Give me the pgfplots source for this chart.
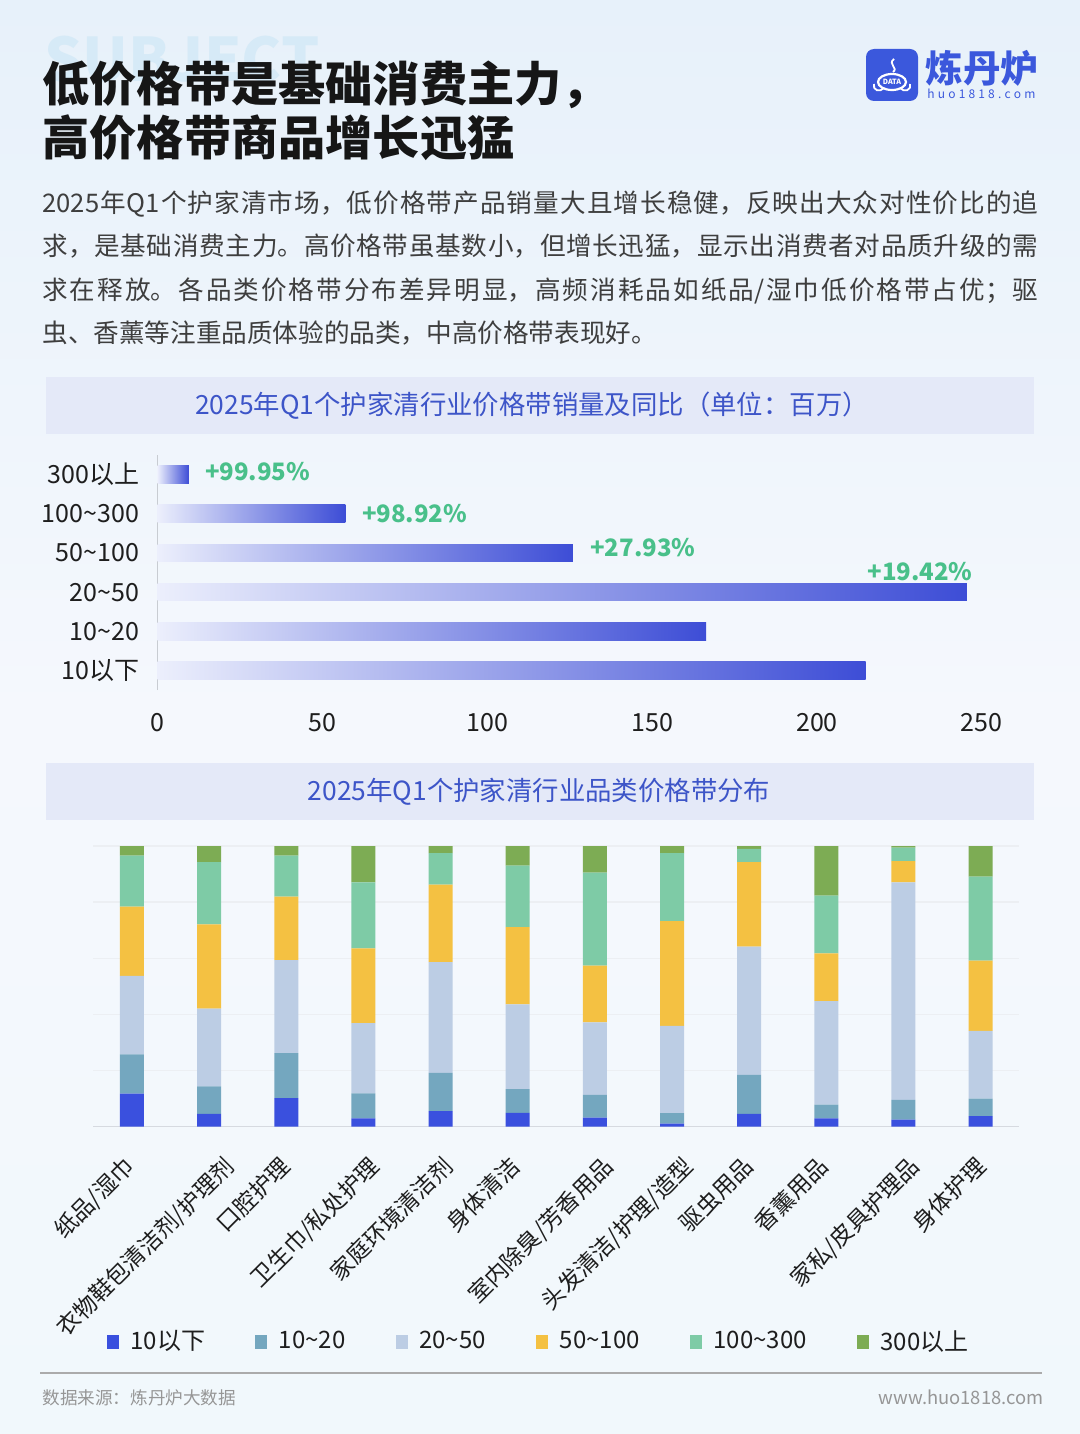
\documentclass[border=0pt]{standalone}
\usepackage{fontspec}
\setmainfont{Noto Sans CJK SC}
\usepackage{pgfplots}
\usepackage{pgfplotstable}
\pgfplotsset{compat=1.18}
\XeTeXlinebreaklocale "zh"
\XeTeXlinebreakskip=0pt plus 4pt
\newcommand{\tld}{\char"007E\relax}

\definecolor{bgtop}{RGB}{231,241,250}
\definecolor{bgmid}{RGB}{245,248,253}
\definecolor{bgbot}{RGB}{241,248,252}
\definecolor{subj}{RGB}{214,234,247}
\definecolor{titlecol}{RGB}{22,22,22}
\definecolor{paracol}{RGB}{62,62,62}
\definecolor{bannerfill}{RGB}{228,233,248}
\definecolor{bannertext}{RGB}{61,85,200}
\definecolor{logoblue}{RGB}{59,88,220}
\definecolor{barend}{RGB}{61,77,214}
\definecolor{barmid}{RGB}{112,124,226}
\definecolor{barstart}{RGB}{236,239,252}
\definecolor{pctgreen}{RGB}{73,192,138}
\definecolor{axisgray}{RGB}{200,204,210}
\definecolor{gridc}{RGB}{236,239,243}
\definecolor{basec}{RGB}{214,218,224}
\definecolor{labcol}{RGB}{30,30,30}
\definecolor{footgray}{RGB}{150,150,150}
\definecolor{c1}{RGB}{58,80,222}
\definecolor{c2}{RGB}{116,167,191}
\definecolor{c3}{RGB}{188,205,228}
\definecolor{c4}{RGB}{244,193,66}
\definecolor{c5}{RGB}{126,203,166}
\definecolor{c6}{RGB}{125,172,84}

\pgfplotstableread{
x c1 c2 c3 c4 c5 c6
0 11.7 14.0 28.0 24.7 18.2 3.4
1 4.5 9.8 27.7 30.1 22.2 5.7
2 10.1 16.1 33.1 22.7 14.6 3.4
3 2.9 8.9 25.1 26.6 23.5 13.0
4 5.5 13.6 39.5 27.6 11.3 2.5
5 4.9 8.4 30.2 27.6 21.9 7.0
6 3.2 8.1 25.8 20.3 33.1 9.5
7 1.0 3.8 31.1 37.3 24.3 2.5
8 4.5 13.9 45.7 30.2 4.7 1.0
9 2.9 4.9 36.9 17.0 20.6 17.7
10 2.5 7.0 77.5 7.6 4.8 0.6
11 3.7 6.2 24.2 25.0 30.0 10.9
}\stacked

\begin{document}
\begin{tikzpicture}
\begin{scope}[x=0.5pt,y=-0.5pt]
\shade[top color=bgtop, bottom color=bgbot, middle color=bgmid] (0,0) rectangle (1080,1434);
% watermark word
\node[anchor=north west, inner sep=0pt, text=subj, font=\bfseries\fontsize{30pt}{30pt}\selectfont] at (44,36) {SUBJECT};
% title
\node[anchor=west, inner sep=0pt, text=titlecol, font=\bfseries\fontsize{23.6pt}{26pt}\selectfont] at (42,85) {低价格带是基础消费主力，};
\node[anchor=west, inner sep=0pt, text=titlecol, font=\bfseries\fontsize{23.6pt}{26pt}\selectfont] at (42,138) {高价格带商品增长迅猛};
% paragraph
\node[anchor=north west, inner sep=0pt, text width=498pt, align=justify, text=paracol, font=\fontsize{12.8pt}{21.75pt}\selectfont] at (42,190)
{2025年Q1个护家清市场，低价格带产品销量大且增长稳健，反映出大众对性价比的追\linebreak
求，是基础消费主力。高价格带虽基数小，但增长迅猛，显示出消费者对品质升级的需\linebreak
求在释放。各品类价格带分布差异明显，高频消耗品如纸品/湿巾低价格带占优；驱\linebreak
虫、香薰等注重品质体验的品类，中高价格带表现好。};
% logo
\fill[logoblue, rounded corners=4pt] (866,49) rectangle (918,101);
\draw[white, line width=1.1pt] (892,82) ellipse [x radius=14, y radius=8];
\draw[white, line width=0.9pt] (874,84) .. controls (872,90) and (880,93) .. (884,88);
\draw[white, line width=0.9pt] (910,84) .. controls (912,90) and (904,93) .. (900,88);
\draw[white, line width=0.9pt] (893,72) .. controls (899,68) and (887,64) .. (894,59);
\node[inner sep=0pt, text=white, font=\bfseries\fontsize{3.6pt}{4pt}\selectfont] at (892,82) {DATA};
\node[anchor=west, inner sep=0pt, text=logoblue, font=\bfseries\fontsize{18.8pt}{20pt}\selectfont] at (925,68) {炼丹炉};
\node[anchor=west, inner sep=0pt, text=logoblue, font=\fontsize{6pt}{7pt}\selectfont] at (927,94) {\makebox[54pt]{h\hfill u\hfill o\hfill 1\hfill 8\hfill 1\hfill 8\hfill .\hfill c\hfill o\hfill m}};
% banners
\fill[bannerfill] (46,377) rectangle (1034,434);
\node[inner sep=0pt, text=bannertext, font=\fontsize{13.2pt}{14pt}\selectfont] at (532,406) {2025年Q1个护家清行业价格带销量及同比（单位：百万）};
\fill[bannerfill] (46,763) rectangle (1034,820);
\node[inner sep=0pt, text=bannertext, font=\fontsize{13.2pt}{14pt}\selectfont] at (539,792) {2025年Q1个护家清行业品类价格带分布};
% footer
\draw[footgray!80, line width=1.3pt] (40,1373) -- (1042,1373);
\node[anchor=west, inner sep=0pt, text=footgray, font=\fontsize{8.8pt}{10pt}\selectfont] at (42,1398) {数据来源：炼丹炉大数据};
\node[anchor=east, inner sep=0pt, text=footgray, font=\fontsize{9.2pt}{10pt}\selectfont] at (1044,1397) {www.huo1818.com};
\end{scope}

% ---------- horizontal bar chart ----------
\begin{axis}[
  at={(78.75pt,-345pt)}, anchor=south west, scale only axis,
  width=412.15pt, height=117.5pt,
  xmin=0, xmax=250, ymin=-0.5, ymax=5.5,
  xbar, bar width=8.85pt, clip=false,
  ytick={0,1,2,3,4,5},
  yticklabels={10以下,10\tld20,20\tld50,50\tld100,100\tld300,300以上},
  xtick={0,50,100,150,200,250},
  axis x line*=bottom, axis y line*=left,
  x axis line style={draw=none},
  y axis line style={draw=axisgray, line width=0.6pt, -},
  major tick length=0pt,
  /pgf/number format/assume math mode=true,
  xticklabel style={anchor=center, yshift=-16.5pt, text=labcol, font=\fontsize{12.5pt}{14pt}\selectfont},
  yticklabel style={anchor=east, inner sep=0pt, xshift=-9pt, text=labcol, font=\fontsize{12.5pt}{14pt}\selectfont},
  every axis plot/.append style={draw=none, bar shift=0pt, left color=barstart, middle color=barmid, right color=barend},
]
\addplot coordinates {(214.8,0)};
\addplot coordinates {(166.4,1)};
\addplot coordinates {(245.5,2)};
\addplot coordinates {(126.0,3)};
\addplot coordinates {(57.0,4)};
\addplot coordinates {(9.5,5)};
\node[anchor=west, inner sep=0pt, text=pctgreen, font=\bfseries\fontsize{12pt}{14pt}\selectfont] at (axis cs:9.5,5) [xshift=7.9pt, yshift=1.6pt] {+99.95\%};
\node[anchor=west, inner sep=0pt, text=pctgreen, font=\bfseries\fontsize{12pt}{14pt}\selectfont] at (axis cs:57.0,4) [xshift=8.1pt] {+98.92\%};
\node[anchor=west, inner sep=0pt, text=pctgreen, font=\bfseries\fontsize{12pt}{14pt}\selectfont] at (axis cs:126.0,3) [xshift=8.5pt, yshift=2.8pt] {+27.93\%};
\node[anchor=east, inner sep=0pt, text=pctgreen, font=\bfseries\fontsize{12pt}{14pt}\selectfont] at (axis cs:245.5,2) [xshift=3pt, yshift=10.2pt] {+19.42\%};
\end{axis}

% ---------- stacked bar chart ----------
\begin{axis}[
  at={(46.7pt,-563.25pt)}, anchor=south west, scale only axis,
  width=462.9pt, height=140.25pt,
  ybar stacked, bar width=12pt, clip=false,
  xmin=-0.5, xmax=11.5, ymin=0, ymax=100,
  xtick=\empty, ytick={20,40,60,80,100}, yticklabels={},
  ymajorgrids, grid style={draw=gridc, line width=0.7pt},
  extra y ticks={0}, extra y tick labels={},
  extra y tick style={grid style={draw=basec, line width=0.9pt}},
  axis line style={draw=none}, major tick length=0pt,
  legend columns=6,
  legend style={at={(0,0)}, anchor=west, xshift=6.65pt, yshift=-107.6pt,
    draw=none, fill=none, inner sep=0pt, outer sep=0pt,
    font=\fontsize{12pt}{13pt}\selectfont, text=labcol,
    nodes={inner sep=0pt},
    /tikz/every odd column/.append style={column sep=5.9pt},
    /tikz/every even column/.append style={column sep=25pt}},
  legend image code/.code={\fill[#1] (0pt,-3.5pt) rectangle (6pt,3.5pt);},
]
\addplot[fill=c1, draw=none] table[x=x, y=c1] {\stacked};
\addplot[fill=c2, draw=none] table[x=x, y=c2] {\stacked};
\addplot[fill=c3, draw=none] table[x=x, y=c3] {\stacked};
\addplot[fill=c4, draw=none] table[x=x, y=c4] {\stacked};
\addplot[fill=c5, draw=none] table[x=x, y=c5] {\stacked};
\addplot[fill=c6, draw=none] table[x=x, y=c6] {\stacked};
\legend{10以下,10\tld20,20\tld50,50\tld100,100\tld300,300以上}
\tikzset{catlab/.style={rotate=45, anchor=north east, inner sep=0pt, text=labcol, font=\fontsize{11.5pt}{13pt}\selectfont}}
\node[catlab] at (axis cs:-0.130,-9.8) {纸品/湿巾};
\node[catlab] at (axis cs:1.168,-9.8) {衣物鞋包清洁剂/护理剂};
\node[catlab] at (axis cs:1.896,-9.8) {口腔护理};
\node[catlab] at (axis cs:3.051,-9.8) {卫生巾/私处护理};
\node[catlab] at (axis cs:4.000,-9.8) {家庭环境清洁剂};
\node[catlab] at (axis cs:4.870,-9.8) {身体清洁};
\node[catlab] at (axis cs:6.077,-9.8) {室内除臭/芳香用品};
\node[catlab] at (axis cs:7.116,-9.8) {头发清洁/护理/造型};
\node[catlab] at (axis cs:7.896,-9.8) {驱虫用品};
\node[catlab] at (axis cs:8.870,-9.8) {香薰用品};
\node[catlab] at (axis cs:10.051,-9.8) {家私/皮具护理品};
\node[catlab] at (axis cs:10.909,-9.8) {身体护理};
\end{axis}

\pgfresetboundingbox
\path[use as bounding box] (0,0) rectangle (540pt,-717pt);
\end{tikzpicture}
\end{document}
